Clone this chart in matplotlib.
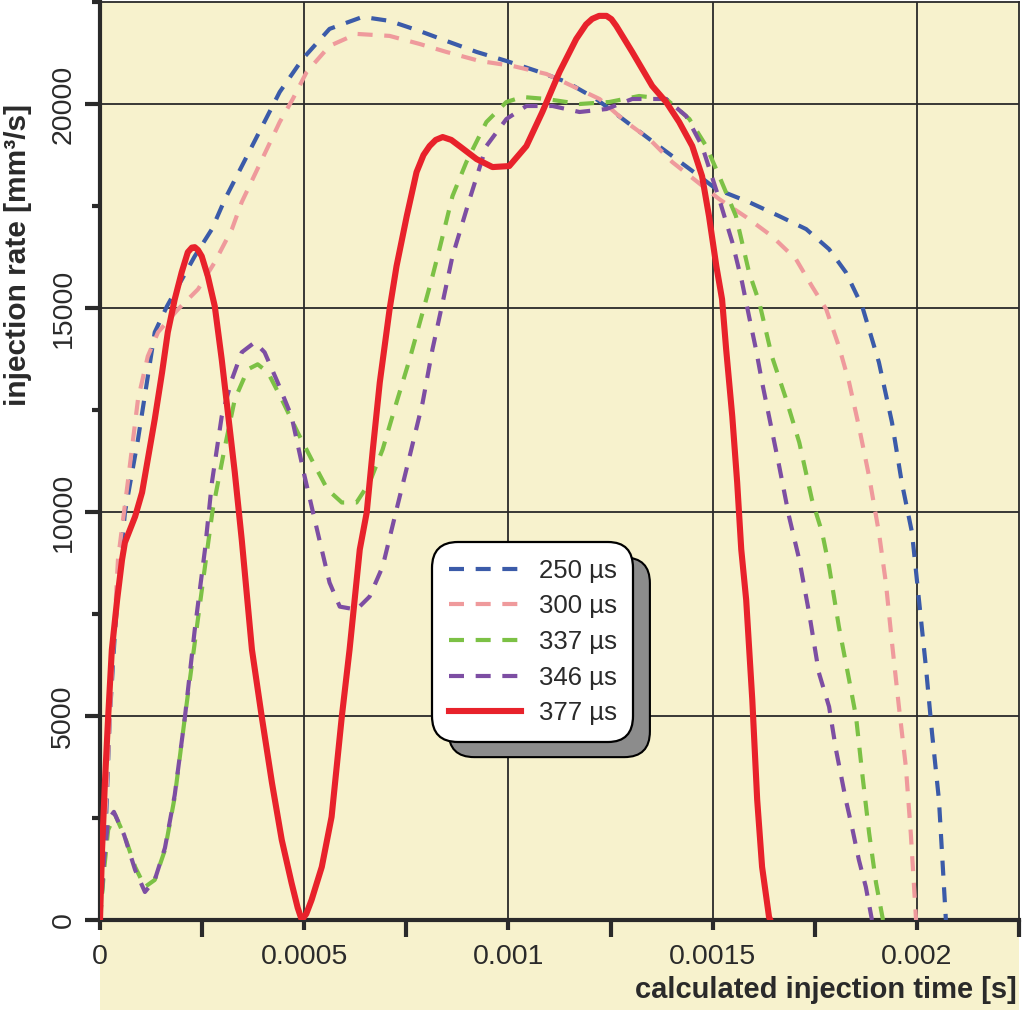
import numpy as np
import matplotlib
matplotlib.use("Agg")
import matplotlib.pyplot as plt
from matplotlib.patches import Rectangle
from matplotlib.ticker import MultipleLocator

plt.rcParams['font.family'] = ['Liberation Sans', 'DejaVu Sans']

# values (time in s, rate in mm3/s)
t_250 = [0, 1.2e-5, 2.4e-5, 3.7e-5, 4.9e-5, 6.1e-5, 9.3e-5, 1.34e-4, 1.64e-4, 2.32e-4,
         2.74e-4, 3.06e-4, 4.40e-4, 4.96e-4, 5.62e-4, 6.43e-4, 7.09e-4, 7.82e-4, 8.48e-4,
         9.22e-4, 9.95e-4, 1.076e-3, 1.142e-3, 1.215e-3, 1.345e-3, 1.411e-3, 1.467e-3,
         1.509e-3, 1.589e-3, 1.663e-3, 1.729e-3, 1.785e-3, 1.826e-3, 1.866e-3, 1.907e-3,
         1.939e-3, 1.963e-3, 1.988e-3, 2.005e-3, 2.022e-3, 2.037e-3, 2.054e-3, 2.071e-3]
q_250 = [0, 1718, 4982, 7117, 8663, 9988, 11779, 14405, 15043, 16270,
         16933, 17669, 20295, 21104, 21841, 22135, 22037, 21791, 21546,
         21276, 21055, 20785, 20540, 20123, 19141, 18650, 18233,
         17914, 17595, 17252, 16933, 16442, 15877, 15043, 13669,
         12196, 10724, 9497, 7853, 6209, 4589, 2945, 0]

t_300 = [0, 1.5e-5, 2.7e-5, 4.4e-5, 6.8e-5, 9.3e-5, 1.17e-4, 1.42e-4, 1.91e-4, 2.40e-4,
         2.81e-4, 3.23e-4, 3.47e-4, 4.40e-4, 4.72e-4, 5.06e-4, 5.62e-4, 6.28e-4, 7.09e-4,
         7.82e-4, 8.48e-4, 9.29e-4, 1.010e-3, 1.093e-3, 1.156e-3, 1.223e-3, 1.288e-3,
         1.345e-3, 1.401e-3, 1.460e-3, 1.516e-3, 1.582e-3, 1.645e-3, 1.704e-3, 1.743e-3,
         1.778e-3, 1.809e-3, 1.834e-3, 1.858e-3, 1.883e-3, 1.907e-3, 1.924e-3, 1.939e-3,
         1.956e-3, 1.973e-3, 1.985e-3, 1.998e-3]
q_300 = [0, 2945, 5644, 8834, 10724, 12761, 13816, 14405, 14969, 15460,
         16123, 16933, 17595, 19558, 20123, 20785, 21423, 21718, 21669,
         21473, 21276, 21055, 20933, 20736, 20442, 20123, 19558,
         19141, 18577, 18111, 17669, 17227, 16761, 16196, 15534,
         14969, 14061, 13178, 12098, 10871, 9497, 8270, 6798,
         5227, 3755, 2135, 0]

t_337 = [0, 1.0e-5, 2.0e-5, 3.7e-5, 6.1e-5, 8.6e-5, 1.10e-4, 1.34e-4, 1.59e-4, 1.83e-4,
         2.08e-4, 2.32e-4, 2.57e-4, 2.76e-4, 3.06e-4, 3.30e-4, 3.62e-4, 3.86e-4, 4.11e-4,
         4.45e-4, 4.84e-4, 5.18e-4, 5.57e-4, 5.92e-4, 6.28e-4, 6.60e-4, 6.92e-4, 7.26e-4,
         7.58e-4, 7.90e-4, 8.14e-4, 8.31e-4, 8.63e-4, 8.97e-4, 9.46e-4, 9.95e-4, 1.034e-3,
         1.093e-3, 1.174e-3, 1.247e-3, 1.320e-3, 1.386e-3, 1.443e-3, 1.484e-3, 1.516e-3,
         1.557e-3, 1.589e-3, 1.614e-3, 1.645e-3, 1.680e-3, 1.712e-3, 1.743e-3, 1.768e-3,
         1.785e-3, 1.809e-3, 1.834e-3, 1.851e-3, 1.866e-3, 1.883e-3, 1.900e-3, 1.917e-3]
q_337 = [0, 1227, 2209, 2577, 2037, 1301, 810, 982, 1718, 3018,
         4982, 6798, 8663, 10061, 11607, 12761, 13497, 13620, 13423,
         12761, 11951, 11288, 10552, 10233, 10233, 10724, 11534, 12687,
         13742, 14896, 15779, 16442, 17743, 18577, 19558, 20049, 20172,
         20123, 20000, 20049, 20196, 20123, 19632, 18970, 18233,
         17252, 15877, 15141, 13816, 12761, 11706, 10307, 9497,
         8663, 7190, 5890, 4982, 3607, 2135, 908, 0]

t_346 = [0, 1.0e-5, 2.0e-5, 3.4e-5, 5.9e-5, 8.6e-5, 1.10e-4, 1.34e-4, 1.59e-4, 1.83e-4,
         2.08e-4, 2.32e-4, 2.57e-4, 2.74e-4, 2.98e-4, 3.23e-4, 3.47e-4, 3.79e-4, 4.03e-4,
         4.35e-4, 4.69e-4, 5.01e-4, 5.33e-4, 5.62e-4, 5.87e-4, 6.28e-4, 6.60e-4, 6.92e-4,
         7.26e-4, 7.58e-4, 7.90e-4, 8.14e-4, 8.39e-4, 8.63e-4, 9.05e-4, 9.46e-4, 9.95e-4,
         1.044e-3, 1.108e-3, 1.174e-3, 1.240e-3, 1.303e-3, 1.386e-3, 1.435e-3, 1.474e-3,
         1.516e-3, 1.548e-3, 1.572e-3, 1.589e-3, 1.606e-3, 1.621e-3, 1.638e-3, 1.663e-3,
         1.687e-3, 1.712e-3, 1.736e-3, 1.760e-3, 1.785e-3, 1.802e-3, 1.826e-3, 1.841e-3,
         1.858e-3, 1.875e-3, 1.890e-3]
q_346 = [0, 1472, 2454, 2650, 2086, 1227, 687, 982, 1767, 3068,
         4982, 7117, 9080, 10724, 12344, 13252, 13914, 14160, 13914,
         13178, 12344, 10871, 9497, 8270, 7681, 7607, 7926, 8663,
         10061, 11362, 12687, 13988, 15141, 16270, 17669, 18970, 19632,
         19951, 19951, 19804, 19877, 20123, 20123, 19706, 18970,
         17669, 16614, 15632, 14798, 13988, 13178, 12344, 11117,
         9890, 8834, 7534, 6061, 5227, 4172, 2945, 2282,
         1472, 810, 0]

t_377 = [0, 5e-6, 1.2e-5, 2.0e-5, 2.9e-5, 4.2e-5, 5.4e-5, 6.1e-5, 8.6e-5, 1.03e-4,
         1.17e-4, 1.34e-4, 1.52e-4, 1.66e-4, 1.83e-4, 2.00e-4, 2.15e-4, 2.25e-4, 2.32e-4,
         2.40e-4, 2.49e-4, 2.64e-4, 2.81e-4, 2.98e-4, 3.13e-4, 3.30e-4, 3.47e-4, 3.72e-4,
         3.96e-4, 4.21e-4, 4.45e-4, 4.69e-4, 4.84e-4, 4.94e-4, 5.05e-4, 5.18e-4, 5.43e-4,
         5.67e-4, 5.92e-4, 6.11e-4, 6.36e-4, 6.53e-4, 6.68e-4, 6.85e-4, 7.09e-4, 7.26e-4,
         7.51e-4, 7.75e-4, 7.92e-4, 8.07e-4, 8.22e-4, 8.39e-4, 8.60e-4, 8.80e-4, 9.22e-4,
         9.61e-4, 1.002e-3, 1.044e-3, 1.083e-3, 1.125e-3, 1.166e-3, 1.190e-3, 1.205e-3,
         1.222e-3, 1.240e-3, 1.252e-3, 1.264e-3, 1.303e-3, 1.352e-3, 1.386e-3, 1.418e-3,
         1.450e-3, 1.474e-3, 1.491e-3, 1.509e-3, 1.523e-3, 1.533e-3, 1.548e-3, 1.560e-3,
         1.570e-3, 1.582e-3, 1.597e-3, 1.609e-3, 1.621e-3, 1.638e-3, 1.641e-3]
q_377 = [0, 1718, 3362, 4982, 6626, 7853, 8834, 9252, 9890, 10479,
         11288, 12270, 13423, 14405, 15215, 15877, 16368, 16480, 16491,
         16420, 16270, 15779, 15043, 13742, 12442, 10969, 9325, 6626,
         4982, 3362, 1963, 908, 300, 0, 150, 491, 1301,
         2528, 4982, 6626, 9080, 9988, 11534, 13178, 14969, 16025,
         17252, 18331, 18750, 18970, 19120, 19190, 19120, 18970, 18650,
         18454, 18479, 18970, 19804, 20785, 21595, 21950, 22086,
         22160, 22160, 22080, 21914, 21276, 20442, 20049, 19558,
         18970, 18233, 17252, 16025, 15215, 13988, 12344, 10724,
         9080, 7853, 5399, 2945, 1301, 74, 0]

labels = ['250 µs', '300 µs', '337 µs', '346 µs', '377 µs']
colors = ['#3b5ba9', '#ef9a9c', '#7cc145', '#7d4ea3', '#e8222b']
bg = '#f7f2cd'
ink = '#2a2a2a'

fig = plt.figure(figsize=(10.24, 10.22), dpi=100)
ax = fig.add_axes([100 / 1024, 102 / 1022, 919 / 1024, 918 / 1022])
ax.set_facecolor(bg)

# yellow strip under the x axis holding the x label
fig.patches.append(Rectangle((100 / 1024, 12 / 1022), 919 / 1024, 90 / 1022,
                             transform=fig.transFigure, facecolor=bg,
                             edgecolor='none', zorder=-1))

series = [(t_250, q_250), (t_300, q_300), (t_337, q_337), (t_346, q_346)]
for (t, q), lab, c in zip(series, labels[:4], colors[:4]):
    line, = ax.plot(t, q, color=c, lw=3, label=lab, zorder=3)
    line.set_dashes((3.6, 2.8))
ax.plot(t_377, q_377, color=colors[4], lw=4.4, label=labels[4], zorder=4,
        solid_joinstyle='round')

ax.set_xlim(0, 0.00225)
ax.set_ylim(0, 22500)
ax.xaxis.set_major_locator(MultipleLocator(0.0005))
ax.xaxis.set_minor_locator(MultipleLocator(0.00025))
ax.yaxis.set_major_locator(MultipleLocator(5000))
ax.yaxis.set_minor_locator(MultipleLocator(2500))
ax.set_xticks([0, 0.0005, 0.001, 0.0015, 0.002])
ax.set_xticklabels(['0', '0.0005', '0.001', '0.0015', '0.002'])
ax.set_yticks([0, 5000, 10000, 15000, 20000])
ax.set_yticklabels(['0', '5000', '10000', '15000', '20000'],
                   rotation=90, va='center')

ax.grid(True, which='major', color=ink, lw=1.3, zorder=1)
ax.set_axisbelow(True)

ax.tick_params(axis='x', which='major', length=7, width=3, pad=10,
               labelsize=20.5, color=ink, labelcolor=ink)
ax.tick_params(axis='x', which='minor', length=12, width=3, color=ink)
ax.tick_params(axis='y', which='major', length=11, width=3, pad=6,
               labelsize=20.5, color=ink, labelcolor=ink)
ax.tick_params(axis='y', which='minor', length=6, width=3, color=ink)

for side in ['left', 'bottom']:
    ax.spines[side].set_linewidth(3)
    ax.spines[side].set_color(ink)
for side in ['top', 'right']:
    ax.spines[side].set_linewidth(1.3)
    ax.spines[side].set_color(ink)

ax.set_xlabel('calculated injection time [s]', fontsize=21, fontweight='bold',
              color=ink, ha='right', va='center')
ax.xaxis.set_label_coords(0.998, -0.076)
ax.set_ylabel('injection rate [mm³/s]', fontsize=21.5, fontweight='bold',
              color=ink, ha='center', va='center')
ax.yaxis.set_label_coords(-0.089, 0.724)

leg = ax.legend(loc='center', bbox_to_anchor=(0.4707, 0.3028), fontsize=18.5,
                handlelength=2.8, handletextpad=0.7, labelspacing=0.45,
                borderpad=0.65, framealpha=1, facecolor='white', edgecolor='black',
                shadow={'ox': 12, 'oy': -11, 'facecolor': '#8c8c8c',
                        'edgecolor': 'black', 'alpha': 1, 'linewidth': 1.5})
frame = leg.get_frame()
frame.set_linewidth(1.6)
frame.set_boxstyle('round', pad=0, rounding_size=1.0)
for txt in leg.get_texts():
    txt.set_color(ink)

fig.savefig('out.png', dpi=100, facecolor='white')
